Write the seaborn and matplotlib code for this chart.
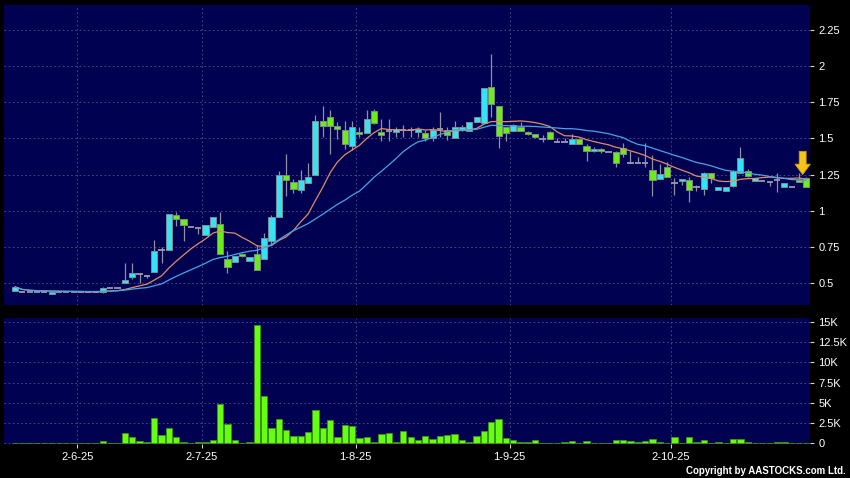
import numpy as np
import pandas as pd
import matplotlib
matplotlib.use("Agg")
import matplotlib.pyplot as plt
import seaborn as sns
from matplotlib.ticker import FuncFormatter, MultipleLocator

# daily OHLC (one entry per trading day shown)
opens = [0.45, 0.44, 0.44, 0.44, 0.44, 0.425, 0.44, 0.44, 0.44, 0.44,
         0.44, 0.44, 0.438, 0.47, 0.47, 0.50, 0.54, 0.565, 0.55, 0.575,
         0.73, 0.73, 0.97, 0.94, 0.89, 0.88, 0.83, 0.885, 0.91, 0.665,
         0.65, 0.705, 0.655, 0.70, 0.67, 0.795, 0.96, 1.25, 1.20, 1.145,
         1.19, 1.25, 1.62, 1.65, 1.585, 1.56, 1.45, 1.545, 1.54, 1.69,
         1.545, 1.55, 1.545, 1.555, 1.555, 1.545, 1.535, 1.50, 1.565, 1.56,
         1.50, 1.555, 1.55, 1.61, 1.605, 1.855, 1.72, 1.58, 1.548, 1.58,
         1.545, 1.528, 1.495, 1.545, 1.477, 1.477, 1.46, 1.497, 1.45, 1.412,
         1.424, 1.405, 1.403, 1.433, 1.33, 1.33, 1.33, 1.28, 1.217, 1.30,
         1.19, 1.207, 1.212, 1.162, 1.15, 1.259, 1.143, 1.14, 1.17, 1.263,
         1.277, 1.206, 1.205, 1.20, 1.21, 1.167, 1.162, 1.212, 1.228]
highs = [0.48, 0.44, 0.44, 0.44, 0.44, 0.442, 0.44, 0.44, 0.44, 0.44,
         0.44, 0.44, 0.472, 0.47, 0.47, 0.64, 0.64, 0.57, 0.56, 0.80,
         0.75, 0.98, 0.99, 0.94, 0.89, 0.88, 0.90, 0.96, 0.99, 0.72,
         0.69, 0.71, 0.68, 0.765, 0.845, 0.97, 1.275, 1.39, 1.22, 1.28,
         1.33, 1.66, 1.72, 1.695, 1.61, 1.62, 1.62, 1.58, 1.695, 1.70,
         1.63, 1.63, 1.58, 1.59, 1.58, 1.58, 1.56, 1.58, 1.68, 1.58,
         1.62, 1.59, 1.61, 1.65, 1.85, 2.08, 1.72, 1.58, 1.60, 1.61,
         1.55, 1.53, 1.525, 1.55, 1.50, 1.50, 1.53, 1.50, 1.46, 1.44,
         1.43, 1.405, 1.41, 1.466, 1.41, 1.37, 1.47, 1.385, 1.32, 1.34,
         1.225, 1.217, 1.235, 1.175, 1.27, 1.26, 1.167, 1.167, 1.28, 1.442,
         1.29, 1.228, 1.205, 1.20, 1.26, 1.19, 1.162, 1.26, 1.23]
lows = [0.445, 0.44, 0.44, 0.44, 0.44, 0.424, 0.44, 0.44, 0.44, 0.44,
        0.44, 0.44, 0.436, 0.47, 0.47, 0.50, 0.53, 0.50, 0.535, 0.575,
        0.64, 0.73, 0.895, 0.795, 0.89, 0.84, 0.83, 0.885, 0.70, 0.57,
        0.65, 0.68, 0.655, 0.59, 0.67, 0.77, 0.96, 1.10, 1.12, 1.125,
        1.19, 1.25, 1.51, 1.39, 1.495, 1.425, 1.42, 1.51, 1.54, 1.60,
        1.48, 1.48, 1.51, 1.51, 1.51, 1.51, 1.48, 1.48, 1.51, 1.49,
        1.50, 1.55, 1.55, 1.61, 1.605, 1.65, 1.435, 1.48, 1.548, 1.548,
        1.52, 1.50, 1.478, 1.495, 1.477, 1.477, 1.46, 1.46, 1.345, 1.405,
        1.40, 1.405, 1.30, 1.37, 1.33, 1.33, 1.305, 1.105, 1.217, 1.23,
        1.11, 1.175, 1.063, 1.14, 1.11, 1.19, 1.143, 1.14, 1.165, 1.263,
        1.23, 1.206, 1.205, 1.17, 1.13, 1.167, 1.162, 1.197, 1.167]
closes = [0.475, 0.44, 0.44, 0.44, 0.44, 0.44, 0.44, 0.44, 0.44, 0.44,
          0.44, 0.44, 0.47, 0.47, 0.47, 0.52, 0.57, 0.565, 0.55, 0.725,
          0.73, 0.98, 0.94, 0.90, 0.89, 0.88, 0.90, 0.96, 0.705, 0.615,
          0.69, 0.685, 0.68, 0.59, 0.815, 0.96, 1.25, 1.21, 1.15, 1.21,
          1.23, 1.62, 1.585, 1.585, 1.562, 1.46, 1.58, 1.53, 1.63, 1.605,
          1.52, 1.55, 1.565, 1.555, 1.555, 1.565, 1.50, 1.56, 1.565, 1.52,
          1.578, 1.58, 1.61, 1.65, 1.85, 1.74, 1.515, 1.54, 1.59, 1.55,
          1.53, 1.512, 1.495, 1.495, 1.477, 1.477, 1.497, 1.46, 1.412, 1.424,
          1.412, 1.405, 1.328, 1.39, 1.33, 1.33, 1.33, 1.212, 1.252, 1.23,
          1.19, 1.217, 1.143, 1.162, 1.259, 1.228, 1.167, 1.167, 1.274, 1.362,
          1.24, 1.228, 1.205, 1.20, 1.21, 1.19, 1.162, 1.197, 1.167]
volumes = [0, 0, 0, 0, 0, 50, 0, 0, 0, 0,
           40, 0, 250, 0, 0, 1280, 830, 290, 165, 3180,
           1030, 1880, 830, 180, 0, 120, 200, 410, 4870, 2350,
           410, 80, 140, 14620, 5900, 1840, 2990, 1650, 910, 850,
           1420, 4070, 1920, 2850, 740, 2230, 2120, 620, 760, 100,
           1160, 1300, 100, 1530, 760, 350, 950, 540, 910, 1030,
           1160, 410, 100, 890, 1570, 2680, 2990, 620, 410, 140,
           140, 350, 40, 80, 0, 140, 220, 0, 270, 40,
           0, 0, 410, 410, 220, 140, 290, 520, 140, 20,
           810, 20, 740, 120, 390, 20, 200, 20, 520, 500,
           120, 20, 20, 20, 180, 140, 0, 30, 30]

# first trading day of each labelled month (index into the lists above)
date_labels = ["2-6-25", "2-7-25", "1-8-25", "1-9-25", "2-10-25"]
date_slots = [9, 26, 47, 68, 90]

df = pd.DataFrame({"open": opens, "high": highs, "low": lows,
                   "close": closes, "volume": volumes})
df["idx"] = np.arange(len(df))
df["ma10"] = df["close"].rolling(10, min_periods=1).mean()
df["ma20"] = df["close"].rolling(20, min_periods=1).mean()

navy = "#010152"
up_col = "#35e3f2"
down_col = "#6cec1c"
wick_col = "#9090a4"
grid_col = "#50508c"

sns.set_theme(style="dark", rc={"axes.facecolor": navy,
                                "figure.facecolor": "black"})
plt.rcParams["font.family"] = ["Liberation Sans", "DejaVu Sans"]

fig = plt.figure(figsize=(8.5, 4.78), dpi=100, facecolor="black")
ax = fig.add_axes([4 / 850, 1 - 305 / 478, 806 / 850, 300 / 478])
axv = fig.add_axes([4 / 850, 1 - 444 / 478, 806 / 850, 126 / 478])

# candles
ax.vlines(df["idx"], df["low"], df["high"], color=wick_col, lw=0.9, zorder=2)
up = df[df["close"] > df["open"]]
dn = df[df["close"] < df["open"]]
flat = df[df["close"] == df["open"]]
ax.bar(up["idx"], up["close"] - up["open"], bottom=up["open"], width=0.84,
       color=up_col, edgecolor="#7a8e9a", linewidth=0.7, zorder=3)
ax.bar(dn["idx"], dn["open"] - dn["close"], bottom=dn["close"], width=0.84,
       color=down_col, edgecolor="#7a8e7a", linewidth=0.7, zorder=3)
ax.hlines(flat["close"], flat["idx"] - 0.42, flat["idx"] + 0.42,
          color="#9a9ab0", lw=1.3, zorder=3)

# moving averages
sns.lineplot(data=df, x="idx", y="ma10", ax=ax, color="#dd8e64", lw=0.9, zorder=4)
sns.lineplot(data=df, x="idx", y="ma20", ax=ax, color="#48a4e4", lw=0.9, zorder=4)

# marker on the latest bar
last = len(df) - 1
tip_y = df["high"].iloc[-1] + 0.02
ax.annotate("", xy=(last - 0.5, tip_y), xytext=(last - 0.5, tip_y + 0.16),
            arrowprops=dict(arrowstyle="simple,head_width=1.1,head_length=0.75,tail_width=0.5",
                            fc="#f6c417", ec="#c99a08", lw=0.6,
                            shrinkA=0, shrinkB=0, mutation_scale=10),
            zorder=6)

ax.set_xlim(-1.5, len(df) - 0.5)
ax.set_ylim(0.35, 2.42)
ax.yaxis.set_major_locator(MultipleLocator(0.25))
ax.yaxis.set_major_formatter(FuncFormatter(lambda v, p: f"{v:g}"))
ax.set_xticks([s - 0.5 for s in date_slots])
ax.set_xlabel("")
ax.set_ylabel("")

# volume
sns.barplot(x=df["idx"], y=df["volume"], ax=axv, color="#66ff12", width=0.86,
            saturation=1, edgecolor="#3c9412", linewidth=0.6, errorbar=None)
axv.set_xlim(-1.5, len(df) - 0.5)
axv.set_ylim(-90, 15500)
axv.set_yticks(np.arange(0, 15001, 2500))
axv.yaxis.set_major_formatter(
    FuncFormatter(lambda v, p: "0" if v == 0 else f"{v / 1000:g}K"))
axv.set_xticks([s - 0.5 for s in date_slots])
axv.set_xticklabels(date_labels)
axv.set_xlabel("")
axv.set_ylabel("")

for a in (ax, axv):
    a.set_facecolor(navy)
    a.grid(True, color=grid_col, linestyle=(0, (2, 3)), linewidth=0.6)
    a.set_axisbelow(True)
    for sp in a.spines.values():
        sp.set_visible(False)
    a.yaxis.tick_right()
    a.tick_params(axis="y", which="both", left=False, right=True,
                  labelleft=False, labelright=True, length=3, width=0.8,
                  color="#d0d0d0", labelcolor="white", labelsize=8, pad=3)

ax.tick_params(axis="x", bottom=False, labelbottom=False)
axv.tick_params(axis="x", bottom=True, length=3, width=0.8, color="#d0d0d0",
                labelcolor="white", labelsize=8, pad=3)

fig.text(0.995, 0.009, "Copyright by AASTOCKS.com Ltd.", ha="right",
         va="baseline", color="white", fontsize=7, fontweight="bold")

fig.savefig("out.png", dpi=100, facecolor="black")
